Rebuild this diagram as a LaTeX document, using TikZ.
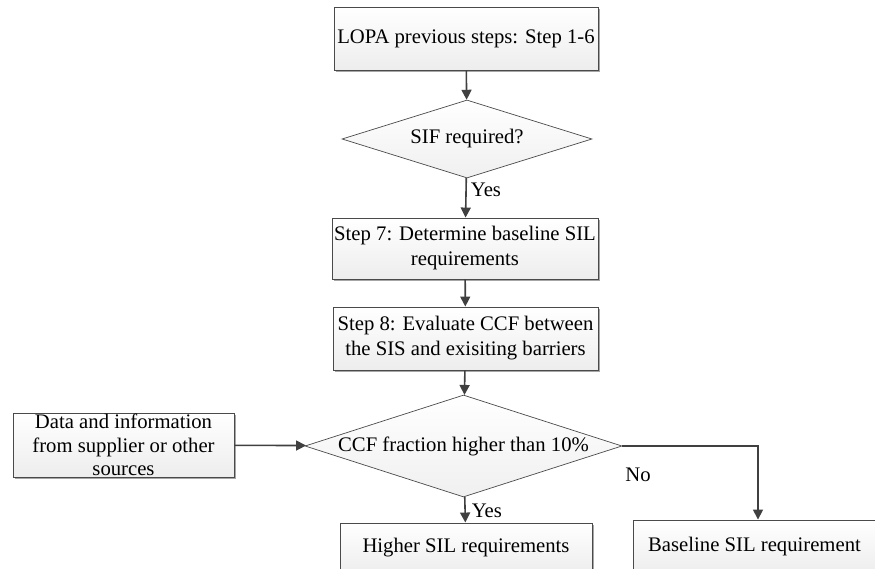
\documentclass[tikz,border=0pt]{standalone}
\usepackage{fontspec}
\setmainfont{Liberation Serif}
\usetikzlibrary{shapes.geometric,arrows.meta,shadows}
\definecolor{edgec}{HTML}{4A4A4A}
\definecolor{linec}{HTML}{404040}
\tikzset{
  boxstyle/.style={draw=edgec, line width=0.9pt, top color=white, bottom color=gray!14,
    drop shadow={shadow xshift=1.6pt, shadow yshift=-1.6pt, fill=gray!70, opacity=1},
    align=center, inner sep=0pt, font=\fontsize{20.7}{25}\selectfont},
  decision/.style={diamond, draw=edgec, line width=0.7pt, top color=white, bottom color=gray!12,
    inner sep=0pt, font=\fontsize{20.7}{25}\selectfont},
  flow/.style={draw=linec, line width=1.6pt, -{Triangle[length=10pt,width=10pt]}},
  lbl/.style={font=\fontsize{20.7}{25}\selectfont, inner sep=0pt}
}
\begin{document}
\begin{tikzpicture}[x=1pt,y=-1pt]
\useasboundingbox (0,0) rectangle (875,569);
\clip (0,0) rectangle (875,569);
\node[boxstyle, minimum width=264pt, minimum height=63pt] (b1) at (466,38.5) {LOPA previous steps: Step 1-6};
\node[decision, minimum width=250pt, minimum height=78pt, aspect=3.2] (d1) at (467,139) {SIF required?};
\node[boxstyle, minimum width=266pt, minimum height=61pt] (b2) at (465,248.5) {Step 7: Determine baseline SIL\\requirements};
\node[boxstyle, minimum width=265pt, minimum height=63pt] (b3) at (465.5,338.5) {Step 8: Evaluate CCF between\\the SIS and exisiting barriers};
\node[decision, minimum width=317pt, minimum height=102pt, aspect=3.1] (d2) at (463.5,446) {CCF fraction higher than 10\%};
\node[boxstyle, minimum width=221pt, minimum height=64pt, font=\fontsize{20.7}{23.5}\selectfont] (data) at (123.5,445) {Data and information\\from supplier or other\\sources};
\node[boxstyle, minimum width=252pt, minimum height=50pt] (hi) at (466,548) {Higher SIL requirements};
\node[boxstyle, minimum width=243pt, minimum height=54pt] (base) at (754.5,547) {Baseline SIL requirement};
\draw[flow] (b1) -- (d1);
\draw[flow] (d1) -- (b2) node[lbl, pos=0.3, anchor=west, xshift=4pt] {Yes};
\draw[flow] (b2) -- (b3);
\draw[flow] (b3) -- (d2);
\draw[flow] (d2) -- (hi) node[lbl, midway, anchor=west, xshift=6pt, yshift=-1pt] {Yes};
\draw[flow] (data) -- (d2);
\draw[flow] (d2.east) -| ([xshift=3.5pt]base.north);
\node[lbl] (no) at (638,475) {No};
\end{tikzpicture}
\end{document}
